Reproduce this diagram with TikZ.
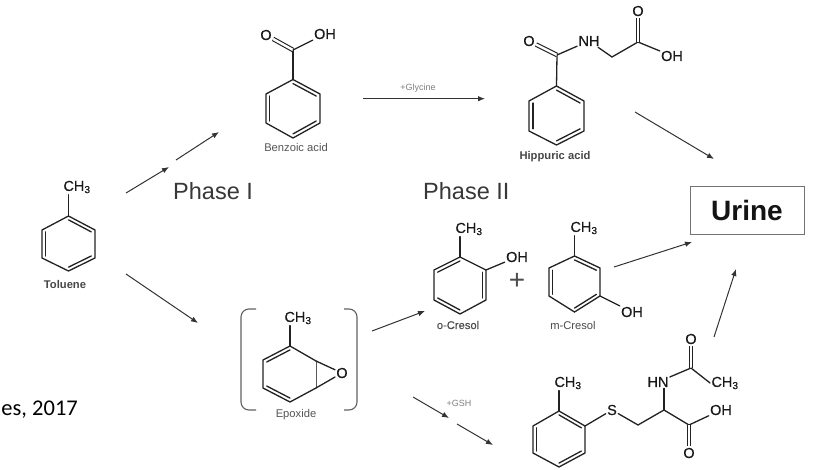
\documentclass[tikz,border=0pt]{standalone}
\usepackage{fontspec}
\setmainfont{Liberation Sans}
\newfontfamily\carlitofont{Carlito}
\newfontfamily\atomfont[FakeBold=0.35]{Liberation Sans}
\usetikzlibrary{calc,arrows.meta}
\definecolor{bondc}{HTML}{222222}
\definecolor{labc}{HTML}{555555}
\definecolor{arrc}{HTML}{333333}
\newcommand{\fs}[1]{\fontsize{#1}{#1}\selectfont}
\newcommand{\benzring}[8]{%
  \coordinate (#1c) at ({(#2+#3)/2},{(#4+#7)/2});
  \coordinate (#11) at ({(#2+#3)/2},#4);
  \coordinate (#12) at (#3,#5);
  \coordinate (#13) at (#3,#6);
  \coordinate (#14) at ({(#2+#3)/2},#7);
  \coordinate (#15) at (#2,#6);
  \coordinate (#16) at (#2,#5);
  \draw[bond,line join=miter] (#11)--(#12)--(#13)--(#14)--(#15)--(#16)--cycle;
  \foreach \a/\b in #8 {\draw[bond] ($(#1\a)!.14!(#1c)$) -- ($(#1\b)!.14!(#1c)$);}
}
\def\dblA{1/2,3/4,5/6}
\def\dblB{6/1,2/3,4/5}
\tikzset{
  x=1pt,y=-1pt,
  bond/.style={draw=bondc,line width=1.3pt,line cap=round},
  dbond/.style={draw=bondc,double=white,double distance=2.4pt,line width=1.1pt},
  atom/.style={text=black!90,inner sep=1.2pt,font=\atomfont\fs{14.5}},
  cname/.style={text=labc,inner sep=0pt,font=\fs{11.2}},
  cmid/.style={text=black!70,inner sep=0pt,font=\atomfont\fs{11.2}},
  cnamebold/.style={text=black!72,inner sep=0pt,font=\fs{11.2}\bfseries},
  conv/.style={draw=arrc,line width=1pt,-{Latex[length=7pt,width=5.5pt]}},
  phase/.style={text=black!78,inner sep=0pt,font=\fs{23.5},anchor=base west},
  reag/.style={text=black!50,inner sep=0pt,font=\fs{9}},
  brk/.style={draw=black!62,line width=1.1pt,rounded corners=8pt},
}
\newcommand{\methyl}{CH\textsubscript{3}}
\begin{document}
\begin{tikzpicture}
\useasboundingbox (0,0) rectangle (832,470);
\fill[white] (0,0) rectangle (832,470);

% Toluene
\benzring{t}{42}{95}{216}{230}{258}{271}{\dblA}
\node[atom] (tme) at (77,187) {\methyl};
\node[cnamebold] (tn) at (65,284) {Toluene};
\draw[bond] (t1) -- (t1 |- tme.south);

% Benzoic acid
\benzring{b}{266}{320}{79.5}{94}{123}{138}{\dblA}
\coordinate (bC) at (293,50);
\node[atom] (bO) at (266,35) {O};
\node[atom] (bOH) at (325,34) {OH};
\node[cname] (bn) at (296,147) {Benzoic acid};
\draw[bond] (b1) -- (bC);
\draw[dbond] (bC) -- (bO);
\draw[bond] (bC) -- (bOH);

% Hippuric acid
\benzring{h}{529}{584}{86}{101}{131}{145}{\dblA}
\coordinate (hC) at (557,55);
\coordinate (hCH) at (612,57);
\coordinate (hCc) at (638,42);
\node[atom] (hO) at (529,41) {O};
\node[atom] (hNH) at (589,41) {NH};
\node[atom] (hO2) at (638,11) {O};
\node[atom] (hOH) at (672,56) {OH};
\node[cnamebold] (hn) at (555,157) {Hippuric acid};
\draw[bond] (h1) -- (hC);
\draw[dbond] (hC) -- (hO);
\draw[bond] (hC) -- (hNH);
\draw[bond] (hNH) -- (hCH) -- (hCc) -- (hOH);
\draw[dbond] (hCc) -- (hO2);

% Epoxide
\coordinate (e1) at (290,346);
\coordinate (e2) at (316,361);
\coordinate (e3) at (316,388);
\coordinate (e4) at (290,402);
\coordinate (e5) at (263,388);
\coordinate (e6) at (263,360);
\coordinate (ec) at (290,374);
\draw[bond] (e1)--(e2);
\draw[bond,line width=.9pt,draw=black!65] (e2)--(e3);
\draw[bond] (e3)--(e4)--(e5)--(e6)--(e1);
\draw[bond] ($(e6)!.14!(ec)$) -- ($(e1)!.14!(ec)$);
\draw[bond] ($(e4)!.14!(ec)$) -- ($(e5)!.14!(ec)$);
\node[atom] (eO) at (342,373) {O};
\node[atom] (eme) at (298,318) {\methyl};
\node[cname] (en) at (296,415) {Epoxide};
\draw[bond] (e1) -- (e1 |- eme.south);
\draw[bond] (e2) -- (eO);
\draw[bond] (e3) -- (eO);
\coordinate (lbt) at (256,309);
\coordinate (lbb) at (256,410);
\coordinate (rbt) at (344,309);
\coordinate (rbb) at (344,410);
\draw[brk] (lbt) -| (241,410) -- (lbb);
\draw[brk] (rbt) -| (357,410) -- (rbb);

% o-Cresol
\benzring{o}{434}{486}{257}{270}{300}{314}{\dblB}
\node[atom] (ome) at (469,229) {\methyl};
\node[atom] (oOH) at (517,257) {OH};
\node[cmid] (on) at (458,325) {o-Cresol};
\draw[bond] (o1) -- (o1 |- ome.south);
\draw[bond] (o2) -- (oOH);
\node[text=black!70,inner sep=0pt,font=\fs{28}] (plus) at (517,281) {+};

% m-Cresol
\benzring{m}{549}{600}{256}{268}{296}{312}{\dblA}
\node[atom] (mme) at (584,228) {\methyl};
\node[atom] (mOH) at (632,312) {OH};
\node[cname,text=black!70] (mn) at (573,325) {m-Cresol};
\draw[bond] (m1) -- (m1 |- mme.south);
\draw[bond] (m3) -- (mOH);

% Conjugate
\benzring{g}{533}{585}{411}{426}{453}{467}{\dblA}
\coordinate (gCH) at (638,425);
\coordinate (gCa) at (664,410);
\coordinate (gCo) at (689,425);
\coordinate (gCb) at (691,368);
\node[atom] (gme) at (568,383) {\methyl};
\node[atom] (gS) at (612,410) {S};
\node[atom] (gHN) at (658,382) {HN};
\node[atom] (gO1) at (691,339) {O};
\node[atom] (gme2) at (725,383) {\methyl};
\node[atom] (gOH) at (721,410) {OH};
\node[atom] (gO2) at (689,453) {O};
\draw[bond] (g1) -- (g1 |- gme.south);
\draw[bond] (g2) -- (gS);
\draw[bond] (gS) -- (gCH) -- (gCa) -- (gCo);
\draw[bond] (gCa) -- (gCa |- gHN.south);
\draw[bond] (gHN) -- (gCb);
\draw[dbond] (gCb) -- (gO1);
\draw[bond] (gCb) -- (gme2.west);
\draw[bond] (gCo) -- (gOH);
\draw[dbond] (gCo) -- (gO2);

% Phase labels
\node[phase] (p1) at (173,200) {Phase I};
\node[phase] (p2) at (423,200) {Phase II};

% Urine
\node[draw=black!55,line width=.9pt,minimum width=114pt,minimum height=48pt,inner sep=0pt,font=\fs{28}\bfseries,text=black!92] (urine) at (747,210) {Urine};

% Citation
\node[anchor=base east,inner sep=0pt,font=\carlitofont\fs{22.5},text=black] (cite) at (78,415) {es, 2017};

% Reagents
\node[reag] (rg) at (418,88) {+Glycine};
\node[reag] (rs) at (459,403) {+GSH};

% Arrows
\coordinate (a1s) at (126,193); \coordinate (a1e) at (169,167);
\coordinate (a2s) at (176,160); \coordinate (a2e) at (219,132);
\coordinate (a3s) at (126,274); \coordinate (a3e) at (198,323);
\coordinate (a4s) at (363,98.7); \coordinate (a4e) at (485,98.7);
\coordinate (a5s) at (635,112); \coordinate (a5e) at (714,159);
\coordinate (a6s) at (372,331); \coordinate (a6e) at (425,311);
\coordinate (a7s) at (614,267); \coordinate (a7e) at (692,242);
\coordinate (a8s) at (714,337); \coordinate (a8e) at (736,269);
\coordinate (a9s) at (413,397); \coordinate (a9e) at (449,418);
\coordinate (a10s) at (457,424); \coordinate (a10e) at (493,445);
\foreach \i in {1,...,10} {\draw[conv] (a\i s) -- (a\i e);}
\end{tikzpicture}
\end{document}
